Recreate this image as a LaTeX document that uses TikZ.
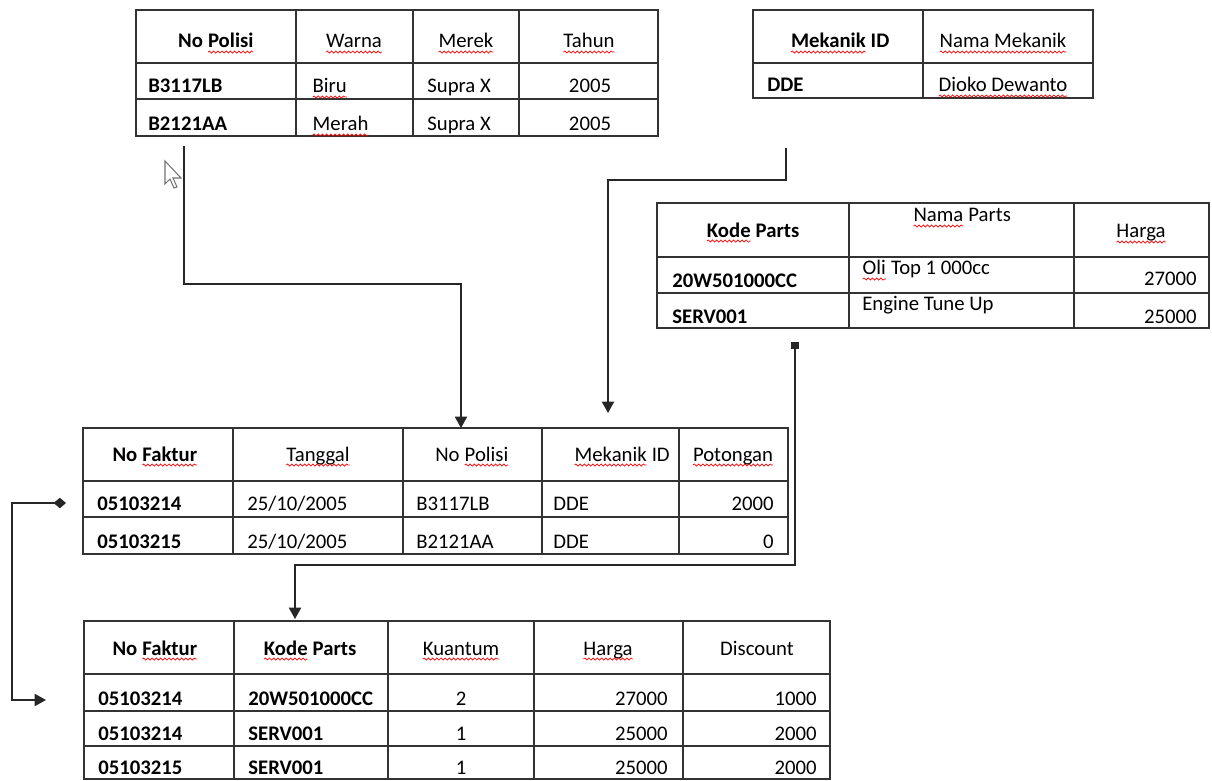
\documentclass[tikz,border=0pt]{standalone}
\usepackage{fontspec}
\setmainfont{Carlito}
\usetikzlibrary{arrows.meta,decorations.pathmorphing}
\tikzset{garis/.style={line width=0.9pt,draw=black!80}}
\tikzset{relasi/.style={line width=0.8pt,draw=black!85}}
\tikzset{kiri/.style={anchor=base west,inner sep=0pt}}
\tikzset{kanan/.style={anchor=base east,inner sep=0pt}}
\tikzset{tengah/.style={anchor=base,inner sep=0pt}}
\tikzset{panah/.style={-{Triangle[width=7pt,length=6.5pt]}}}
\tikzset{gelombang/.style={red,line width=0.4pt,decorate,decoration={snake,amplitude=0.6pt,segment length=2.4pt}}}
\newcommand{\salah}[1]{\tikz[baseline=(sw.base)]{\node[inner sep=0pt,outer sep=0pt] (sw) {#1}; \draw[gelombang] ([yshift=-2.3pt]sw.base west) -- ([yshift=-2.3pt]sw.base east);}}

\begin{document}
\begin{tikzpicture}[x=0.02cm,y=-0.02cm,font=\fontsize{11.8}{14}\selectfont]
	\useasboundingbox (0,0) rectangle (1212,780);

	% tabel kendaraan
	\draw[garis] (136,10) rectangle (658,136);
	\draw[garis] (136,63) -- (658,63) (136,99) -- (658,99);
	\foreach \x in {296,413,519} \draw[garis] (\x,10) -- (\x,136);
	\node[tengah] (kh1) at (216,48) {\textbf{No \salah{Polisi}}};
	\node[tengah] (kh2) at (354,48) {\salah{Warna}};
	\node[tengah] (kh3) at (466,48) {\salah{Merek}};
	\node[tengah] (kh4) at (589,48) {\salah{Tahun}};
	\node[kiri] (k11) at (148,93) {\textbf{B3117LB}};
	\node[kiri] (k12) at (312,93) {\salah{Biru}};
	\node[kiri] (k13) at (427,93) {Supra X};
	\node[tengah] (k14) at (590,93) {2005};
	\node[kiri] (k21) at (148,131) {\textbf{B2121AA}};
	\node[kiri] (k22) at (312,131) {\salah{Merah}};
	\node[kiri] (k23) at (427,131) {Supra X};
	\node[tengah] (k24) at (590,131) {2005};

	% tabel mekanik
	\draw[garis] (753,10) rectangle (1093,98);
	\draw[garis] (753,63) -- (1093,63) (923,10) -- (923,98);
	\node[tengah] (mh1) at (840,48) {\textbf{\salah{Mekanik} ID}};
	\node[tengah] (mh2) at (1003,48) {\salah{Nama Mekanik}};
	\node[kiri] (m11) at (767,92) {\textbf{DDE}};
	\node[kiri] (m12) at (938,92) {\salah{Dioko Dewanto}};

	% tabel parts
	\draw[garis] (657,203) rectangle (1209,328);
	\draw[garis] (657,257) -- (1209,257) (657,293) -- (1209,293);
	\foreach \x in {849,1074} \draw[garis] (\x,203) -- (\x,328);
	\node[tengah] (ph1) at (753,237) {\textbf{\salah{Kode} Parts}};
	\node[tengah] (ph2) at (962,222) {\salah{Nama} Parts};
	\node[tengah] (ph3) at (1141,238) {\salah{Harga}};
	\node[kiri] (p11) at (672,287) {\textbf{20W501000CC}};
	\node[kiri] (p12) at (862,275) {\salah{Oli} Top 1 000cc};
	\node[kanan] (p13) at (1197,285) {27000};
	\node[kiri] (p21) at (672,323) {\textbf{SERV001}};
	\node[kiri] (p22) at (862,310) {Engine Tune Up};
	\node[kanan] (p23) at (1197,323) {25000};

	% tabel faktur
	\draw[garis] (83,428) rectangle (788,554);
	\draw[garis] (83,481) -- (788,481) (83,517) -- (788,517);
	\foreach \x in {233,403,542,679} \draw[garis] (\x,428) -- (\x,554);
	\node[tengah] (fh1) at (155,461) {\textbf{No \salah{Faktur}}};
	\node[tengah] (fh2) at (318,461) {\salah{Tanggal}};
	\node[tengah] (fh3) at (472,461) {No \salah{Polisi}};
	\node[tengah] (fh4) at (622,461) {\salah{Mekanik} ID};
	\node[tengah] (fh5) at (733,461) {\salah{Potongan}};
	\node[kiri] (f11) at (97,510) {\textbf{05103214}};
	\node[kiri] (f12) at (247,510) {25/10/2005};
	\node[kiri] (f13) at (416,510) {B3117LB};
	\node[kiri] (f14) at (553,510) {DDE};
	\node[kanan] (f15) at (774,510) {2000};
	\node[kiri] (f21) at (97,548) {\textbf{05103215}};
	\node[kiri] (f22) at (247,548) {25/10/2005};
	\node[kiri] (f23) at (416,548) {B2121AA};
	\node[kiri] (f24) at (553,548) {DDE};
	\node[kanan] (f25) at (774,548) {0};

	% tabel detail faktur
	\draw[garis] (84,621) rectangle (830,779);
	\draw[garis] (84,674) -- (830,674) (84,711) -- (830,711) (84,746) -- (830,746);
	\foreach \x in {234,388,534,683} \draw[garis] (\x,621) -- (\x,779);
	\node[tengah] (dh1) at (155,655) {\textbf{No \salah{Faktur}}};
	\node[tengah] (dh2) at (310,655) {\textbf{\salah{Kode} Parts}};
	\node[tengah] (dh3) at (461,655) {\salah{Kuantum}};
	\node[tengah] (dh4) at (608,655) {\salah{Harga}};
	\node[tengah] (dh5) at (757,655) {Discount};
	\node[kiri] (d11) at (98,705) {\textbf{05103214}};
	\node[kiri] (d12) at (248,705) {\textbf{20W501000CC}};
	\node[tengah] (d13) at (461,705) {2};
	\node[kanan] (d14) at (668,705) {27000};
	\node[kanan] (d15) at (817,705) {1000};
	\node[kiri] (d21) at (98,740) {\textbf{05103214}};
	\node[kiri] (d22) at (248,740) {\textbf{SERV001}};
	\node[tengah] (d23) at (461,740) {1};
	\node[kanan] (d24) at (668,740) {25000};
	\node[kanan] (d25) at (817,740) {2000};
	\node[kiri] (d31) at (98,774) {\textbf{05103215}};
	\node[kiri] (d32) at (248,774) {\textbf{SERV001}};
	\node[tengah] (d33) at (461,774) {1};
	\node[kanan] (d34) at (668,774) {25000};
	\node[kanan] (d35) at (817,774) {2000};

	% kursor
	\draw[black!55,fill=white,line width=0.6pt] (165,161) -- (165,184) -- (170,179) -- (174,188) -- (177,187) -- (173,178) -- (181,178) -- cycle;

	% relasi antar tabel
	\coordinate (polisiAsal) at (184,146);
	\coordinate (polisiBelok) at (461,284);
	\coordinate (polisiTuju) at (461,428);
	\coordinate (mekAsal) at (786,148);
	\coordinate (mekBelok) at (786,180);
	\coordinate (mekTuju) at (608,413);
	\coordinate (partAsal) at (795,342);
	\coordinate (partBelok) at (795,565);
	\coordinate (partTuju) at (295,619);
	\coordinate (fakAsal) at (66,503);
	\coordinate (fakBelok) at (12,700);
	\coordinate (fakTuju) at (46,700);

	\draw[relasi,panah] (polisiAsal) |- (polisiBelok) -- (polisiTuju);
	\draw[relasi,panah] (mekAsal) -- (mekBelok) -| (mekTuju);
	\draw[relasi,{Square[length=4pt,width=4.5pt]}-{Triangle[width=7pt,length=6.5pt]}] (partAsal) -- (partBelok) -| (partTuju);
	\draw[relasi,{Diamond[width=6pt,length=7pt]}-{Triangle[width=7pt,length=6.5pt]}] (fakAsal) -| (fakBelok) -- (fakTuju);
\end{tikzpicture}
\end{document}
